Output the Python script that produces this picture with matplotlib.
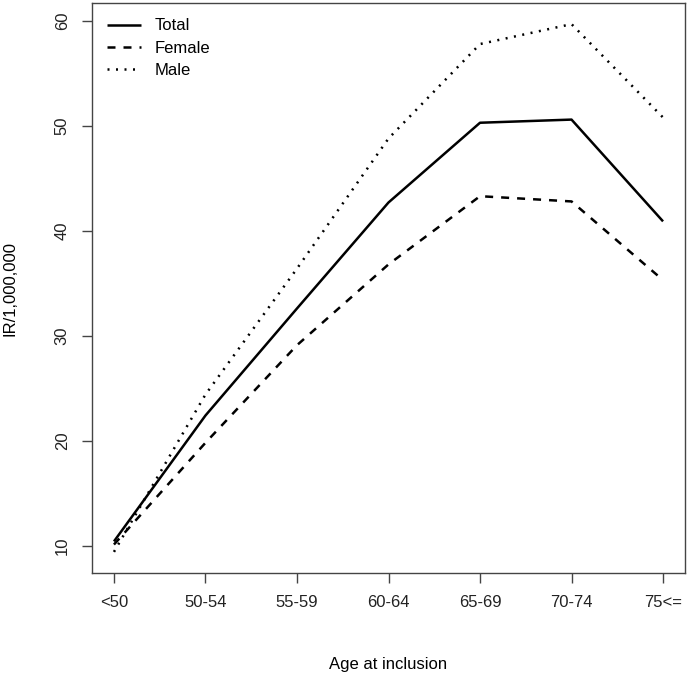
import matplotlib
matplotlib.use('Agg')
import matplotlib.pyplot as plt
import numpy as np

plt.rcParams.update({
    'font.family': 'Liberation Sans',
    'font.size': 12,
    'axes.linewidth': 1.0,
    'axes.edgecolor': '#444444',
})

age_groups = ['<50', '50-54', '55-59', '60-64', '65-69', '70-74', '75<=']
total = [10.4, 22.4, 32.6, 42.7, 50.3, 50.6, 40.9]
female = [10.1, 19.8, 29.1, 36.8, 43.3, 42.8, 35.3]
male = [9.4, 24.4, 36.4, 48.8, 57.8, 59.7, 50.8]

x = np.arange(1, len(age_groups) + 1)

W, H = 688, 679
fig = plt.figure(figsize=(W / 100, H / 100), dpi=100)
ax = fig.add_axes([92 / W, (H - 573) / H, (685 - 92) / W, (573 - 3) / H])

ax.plot(x, total, color='black', lw=1.8, solid_capstyle='butt', label='Total')
ax.plot(x, female, color='black', lw=1.8, linestyle=(0, (3.2, 3.2)),
        dash_capstyle='butt', label='Female')
ax.plot(x, male, color='black', lw=1.8, linestyle=(0, (0.8, 2.6)),
        dash_capstyle='butt', label='Male')

# R-like axis extents (4% padding)
allv = total + female + male
lo, hi = min(allv), max(allv)
pad = 0.04 * (hi - lo)
ax.set_ylim(lo - pad, hi + pad)
ax.set_xlim(1 - 0.04 * 6, 7 + 0.04 * 6)

ax.set_xticks(x)
ax.set_xticklabels(age_groups)
ax.set_yticks([10, 20, 30, 40, 50, 60])
ax.set_yticklabels(['10', '20', '30', '40', '50', '60'], rotation=90, va='center')
ax.tick_params(axis='both', direction='out', length=7, width=1.0,
               color='#444444', labelcolor='#222222', pad=9)

ax.set_xlabel('Age at inclusion', labelpad=34)
ax.set_ylabel('IR/1,000,000', labelpad=27)

ax.legend(loc='upper left', frameon=False, handlelength=2.0,
          handletextpad=0.85, labelspacing=0.44, borderaxespad=0.62,
          borderpad=0.3, fontsize=12)

fig.savefig('out.png', dpi=100)
plt.close()
